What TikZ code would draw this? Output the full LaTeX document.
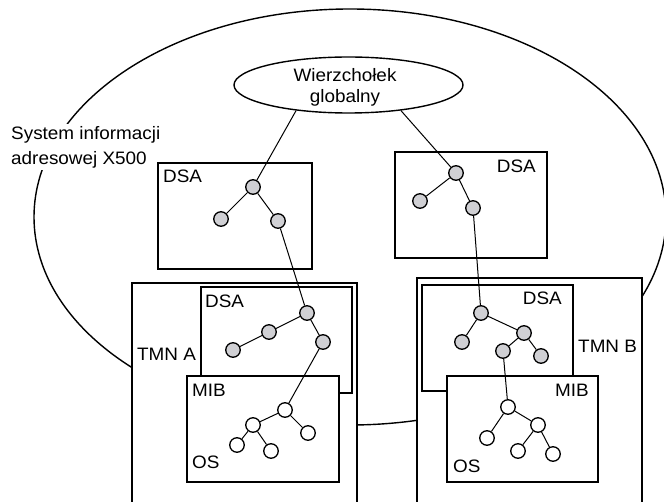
\documentclass[tikz,border=0pt]{standalone}
\usepackage{fontspec}
\setmainfont{Liberation Sans}[FakeStretch=1.05]
\usetikzlibrary{shapes.geometric}
\definecolor{nodegray}{RGB}{208,208,212}
\begin{document}
\begin{tikzpicture}[x=1pt,y=-1pt,
  boxst/.style={draw, fill=white, line width=1.5pt},
  gnode/.style={circle, draw, fill=nodegray, line width=1.3pt, minimum size=14.5pt, inner sep=0pt},
  wnode/.style={circle, draw, fill=white, line width=1.3pt, minimum size=14.5pt, inner sep=0pt},
  lbl/.style={inner sep=0pt, font=\fontsize{18}{21}\selectfont},
  conn/.style={line width=1pt}]
\useasboundingbox (0,0) rectangle (664,502);
\clip (0,0) rectangle (664,502);
% big ellipse
\draw[line width=1.4pt] (350,217) ellipse [x radius=316pt, y radius=208pt];
\node[anchor=west, align=left, fill=white, inner sep=2pt,
      font=\fontsize{18}{25}\selectfont] (sys) at (9,147) {System informacji\\adresowej X500};
% global vertex
\node[ellipse, draw, fill=white, line width=1.4pt, minimum width=229pt, minimum height=56pt,
      inner sep=0pt] (wg) at (348.5,85) {};
\node[align=center, inner sep=0pt, font=\fontsize{18}{21}\selectfont] (wgt) at (345,87) {Wierzchołek\\globalny};
% boxes
\draw[boxst] (158,163) rectangle (312,269);
\draw[boxst] (395,152) rectangle (547,258);
\draw[boxst] (132,283) rectangle (357,520);
\draw[boxst] (201,287) rectangle (352,393);
\draw[boxst] (187,376) rectangle (339,482);
\draw[boxst] (417,278) rectangle (642,520);
\draw[boxst] (422,285) rectangle (573,391);
\draw[boxst] (447,376) rectangle (598,482);
% labels
\node[lbl, anchor=base west] (l1) at (163,183) {DSA};
\node[lbl, anchor=base east] (l2) at (536,173) {DSA};
\node[lbl, anchor=base west] (l3) at (205,308) {DSA};
\node[lbl, anchor=base west] (l4) at (137,361) {TMN A};
\node[lbl, anchor=base west] (l5) at (192,397) {MIB};
\node[lbl, anchor=base west] (l6) at (192,468) {OS};
\node[lbl, anchor=base east] (l7) at (562,305) {DSA};
\node[lbl, anchor=base west] (l8) at (578,353) {TMN B};
\node[lbl, anchor=base east] (l9) at (589,396) {MIB};
\node[lbl, anchor=base west] (l10) at (453,472) {OS};
% tree nodes
\node[gnode] (a1) at (253,187) {};
\node[gnode] (a2) at (221,219) {};
\node[gnode] (a3) at (278,221) {};
\node[gnode] (d1) at (456,173) {};
\node[gnode] (d2) at (420,201) {};
\node[gnode] (d3) at (473,208) {};
\node[gnode] (b1) at (307,313) {};
\node[gnode] (b2) at (269,332) {};
\node[gnode] (b3) at (233,350) {};
\node[gnode] (b4) at (323,342) {};
\node[wnode] (c1) at (285,410) {};
\node[wnode] (c2) at (253,425) {};
\node[wnode] (c3) at (308,433) {};
\node[wnode] (c4) at (237,445) {};
\node[wnode] (c5) at (271,451) {};
\node[gnode] (e1) at (481,313) {};
\node[gnode] (e2) at (462,342) {};
\node[gnode] (e3) at (524,333) {};
\node[gnode] (e4) at (503,351) {};
\node[gnode] (e5) at (541,356) {};
\node[wnode] (f1) at (508,407) {};
\node[wnode] (f2) at (487,438) {};
\node[wnode] (f3) at (538,425) {};
\node[wnode] (f4) at (518,451) {};
\node[wnode] (f5) at (553,454) {};
% connectors
\draw[conn] (wg.206.8) -- (a1);
\draw[conn] (a1) -- (a2);
\draw[conn] (a1) -- (a3);
\draw[conn] (a3) -- (b1);
\draw[conn] (b1) -- (b2);
\draw[conn] (b2) -- (b3);
\draw[conn] (b1) -- (b4);
\draw[conn] (b4) -- (c1);
\draw[conn] (c1) -- (c2);
\draw[conn] (c1) -- (c3);
\draw[conn] (c2) -- (c4);
\draw[conn] (c2) -- (c5);
\draw[conn] (wg.334.4) -- (d1);
\draw[conn] (d1) -- (d2);
\draw[conn] (d1) -- (d3);
\draw[conn] (d3) -- (e1);
\draw[conn] (e1) -- (e2);
\draw[conn] (e1) -- (e3);
\draw[conn] (e3) -- (e4);
\draw[conn] (e3) -- (e5);
\draw[conn] (e4) -- (f1);
\draw[conn] (f1) -- (f2);
\draw[conn] (f1) -- (f3);
\draw[conn] (f3) -- (f4);
\draw[conn] (f3) -- (f5);
\end{tikzpicture}
\end{document}
